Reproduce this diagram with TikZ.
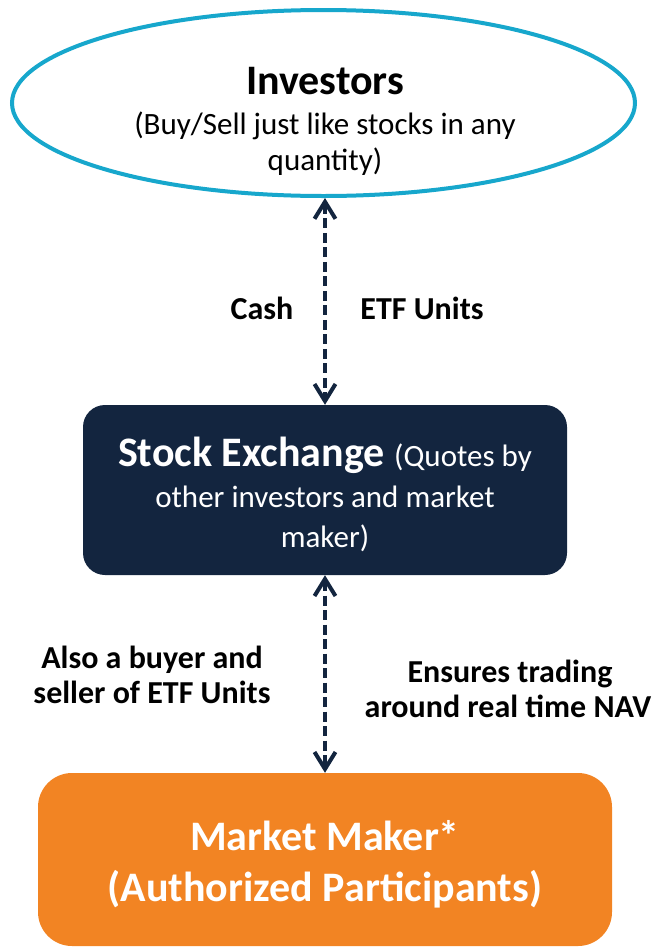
\documentclass[tikz,border=0pt]{standalone}
\usepackage{fontspec}
\setmainfont{Carlito}
\usetikzlibrary{arrows.meta,shapes.geometric}
\definecolor{invblue}{HTML}{17A7CC}
\definecolor{navy}{HTML}{13253F}
\definecolor{mmorange}{HTML}{F28423}
\newcommand{\fsz}[1]{\fontsize{#1}{#1}\selectfont}
\begin{document}
\begin{tikzpicture}[x=1pt,y=-1pt,
  ovalbox/.style={ellipse, draw=invblue, line width=4pt, fill=white, inner sep=0pt},
  darkbox/.style={rectangle, rounded corners=22pt, fill=navy, inner sep=0pt},
  orangebox/.style={rectangle, rounded corners=34pt, fill=mmorange, inner sep=0pt},
  flow/.style={draw=navy, line width=3.3pt, dash pattern=on 10pt off 4.5pt,
    {Straight Barb[length=17pt,width=21pt,line width=4pt]}-{Straight Barb[length=17pt,width=21pt,line width=4pt]}},
  txt/.style={anchor=base, inner sep=0pt},
  big/.style={txt, font=\fsz{42}\bfseries},
  sub/.style={txt, font=\fsz{31}},
  lbl/.style={txt, font=\fsz{32}\bfseries}
]
\useasboundingbox (0,0) rectangle (657,948);
% shapes
\node[ovalbox, minimum width=623pt, minimum height=186pt] (inv) at (323.5,103) {};
\node[darkbox, minimum width=484pt, minimum height=170pt] (se) at (325,490) {};
\node[orangebox, minimum width=574pt, minimum height=173pt] (mm) at (325,859.5) {};
% connectors
\draw[flow] (se.north |- inv.south) -- (se.north);
\draw[flow] (se.south) -- (mm.north);
% texts in shapes
\node[big] (invt) at (325,94) {Investors};
\node[sub] (invs1) at (325,134) {(Buy/Sell just like stocks in any};
\node[sub] (invs2) at (325,170) {quantity)};
\node[txt, text=white] (set1) at (325,466) {\fsz{42}\bfseries Stock Exchange \fsz{31}\mdseries(Quotes by};
\node[sub, text=white] (set2) at (325,507) {other investors and market};
\node[sub, text=white] (set3) at (325,547) {maker)};
\node[big, text=white] (mmt1) at (325,850) {Market Maker*};
\node[big, text=white] (mmt2) at (325,901) {(Authorized Participants)};
% connector labels
\node[lbl] (cash) at (262,319) {Cash};
\node[lbl] (etf) at (422,319) {ETF Units};
\node[lbl] (buy1) at (152,668) {Also a buyer and};
\node[lbl] (buy2) at (152,703) {seller of ETF Units};
\node[lbl] (ens1) at (510,682) {Ensures trading};
\node[lbl] (ens2) at (508,717) {around real time NAV};
\end{tikzpicture}
\end{document}
